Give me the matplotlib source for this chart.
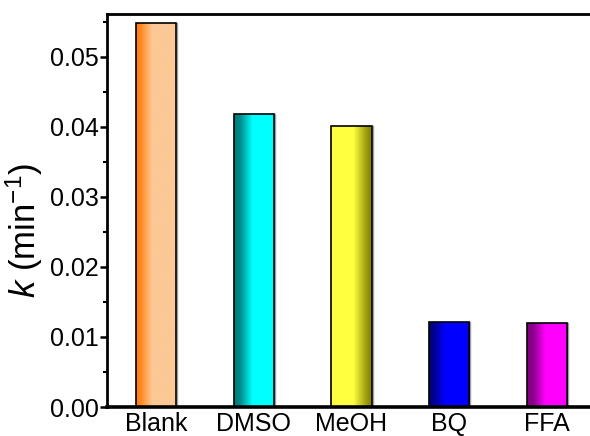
import numpy as np
import matplotlib.pyplot as plt
from matplotlib.colors import LinearSegmentedColormap
from matplotlib.patches import Rectangle
from matplotlib.ticker import MultipleLocator

categories = ["Blank", "DMSO", "MeOH", "BQ", "FFA"]
k_values = [0.0548, 0.0418, 0.0402, 0.0121, 0.0120]
y_ticks = [0.00, 0.01, 0.02, 0.03, 0.04, 0.05]
gradients = [
    [(0.0, "#FF7A10"), (0.12, "#FF8A20"), (0.40, "#FCC896"), (1.0, "#FBC896")],
    [(0.0, "#007878"), (0.15, "#008A8A"), (0.45, "#00FFFF"), (1.0, "#00FFFF")],
    [(0.0, "#FFFF40"), (0.55, "#FFFF40"), (0.85, "#A0A010"), (1.0, "#808000")],
    [(0.0, "#000070"), (0.12, "#000090"), (0.40, "#0000FF"), (1.0, "#0000FF")],
    [(0.0, "#800080"), (0.15, "#8A008A"), (0.45, "#FF00FF"), (1.0, "#FF00FF")],
]

plt.rcParams['font.family'] = ['Liberation Sans', 'DejaVu Sans']
plt.rcParams['mathtext.fontset'] = 'custom'
plt.rcParams['mathtext.rm'] = 'Liberation Sans'
plt.rcParams['mathtext.it'] = 'Liberation Sans:italic'

W, H = 590, 436
fig = plt.figure(figsize=(W / 100, H / 100), dpi=100)
left_px, right_px = 107.5, 595.5
top_px, bot_px = 14, 407
ax = fig.add_axes([left_px / W, (H - bot_px) / H, (right_px - left_px) / W, (bot_px - top_px) / H])

x = np.arange(len(categories))
width = 0.41
ax.set_xlim(-0.5, 4.5)
ax.set_ylim(0, 0.05614)

grad = np.linspace(0, 1, 256).reshape(1, -1)
for i, (xi, v) in enumerate(zip(x, k_values)):
    cmap = LinearSegmentedColormap.from_list(f"g{i}", gradients[i])
    x0, x1 = xi - width / 2, xi + width / 2
    im = ax.imshow(grad, cmap=cmap, aspect='auto', extent=(x0, x1, 0, v), zorder=2, interpolation='bilinear')
    rect = Rectangle((x0, 0), width, v, facecolor='none', edgecolor='black', linewidth=1.2, zorder=3)
    ax.add_patch(rect)
    im.set_clip_path(rect)
    ax.plot([x1 + 0.012, x1 + 0.012], [0, v], color='#A0A0A0', linewidth=1.0, zorder=1.5)

ax.set_xticks(x)
ax.set_xticklabels(categories, fontsize=18)
ax.set_yticks(y_ticks)
ax.set_yticklabels([f"{t:.2f}" for t in y_ticks], fontsize=18)
ax.yaxis.set_minor_locator(MultipleLocator(0.005))
ax.tick_params(axis='y', which='major', direction='out', length=5, width=1.8, pad=1)
ax.tick_params(axis='y', which='minor', direction='out', length=3, width=1.5)
ax.tick_params(axis='x', which='both', length=0, pad=3.5)
ax.set_ylabel("$k$ (min$^{-1}$)", fontsize=25)
ax.yaxis.set_label_coords(-0.128, 0.45)

for s in ['left', 'top']:
    ax.spines[s].set_linewidth(2.0)
ax.spines['bottom'].set_linewidth(2.6)
ax.spines['right'].set_visible(False)

fig.savefig("out.png", dpi=100)
